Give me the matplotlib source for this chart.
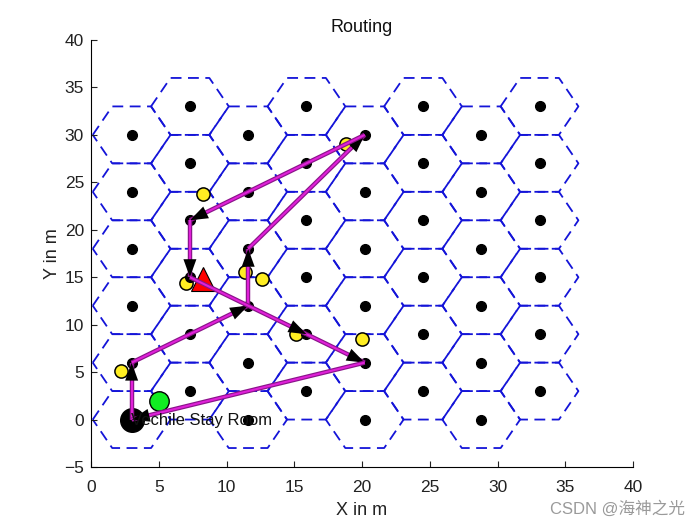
import numpy as np
import matplotlib
matplotlib.use('Agg')
import matplotlib.pyplot as plt
from matplotlib.patches import Polygon
from matplotlib.transforms import IdentityTransform

plt.rcParams['font.family'] = ['Liberation Sans', 'Noto Sans CJK SC', 'DejaVu Sans']

# hexagon cell centres, one list of y values per column
col_x = [3, 7.3, 11.6, 15.9, 20.2, 24.5, 28.8, 33.1]
col_y_low = [0, 6, 12, 18, 24, 30]
col_y_high = [3, 9, 15, 21, 27, 33]

hex_w = 2.87
hex_h = 3.0

yellow_x = [2.2, 7.0, 11.4, 12.6, 15.1, 20.0, 18.8, 8.3]
yellow_y = [5.1, 14.4, 15.6, 14.8, 9.0, 8.5, 29.0, 23.8]

route_x = [3, 3, 11.6, 11.6, 20.2, 7.3, 7.3, 15.9, 20.2, 3]
route_y = [0, 6, 12, 18, 30, 21, 15, 9, 6, 0]

fig = plt.figure(figsize=(7.0, 5.26), dpi=100)
ax = fig.add_axes([91 / 700, 1 - 467 / 526, 542 / 700, 427 / 526])
ax.set_xlim(0, 40)
ax.set_ylim(-5, 40)

for i, x in enumerate(col_x):
    ys = col_y_low if i % 2 == 0 else col_y_high
    for y in ys:
        hx = [x - hex_w, x - hex_w / 2, x + hex_w / 2, x + hex_w, x + hex_w / 2, x - hex_w / 2, x - hex_w]
        hy = [y, y + hex_h, y + hex_h, y, y - hex_h, y - hex_h, y]
        ax.plot(hx, hy, color='#1414d8', lw=1.3, ls=(0, (6, 3.6)), zorder=1)
        ax.plot(x, y, 'o', color='black', ms=7, zorder=3.5)

ax.plot(yellow_x, yellow_y, 'o', mfc='#ffee22', mec='black', ms=9.5, mew=1.1, zorder=3)
ax.plot(8.3, 14.8, '^', mfc='red', mec='black', ms=17, mew=0.8, zorder=3.6)
ax.plot(5, 2, 'o', mfc='#11ee22', mec='black', ms=14, mew=1, zorder=3)
ax.plot(3, 0, 'o', color='black', ms=17, zorder=3)
ax.text(2.95, -0.05, 'Vechile Stay Room', fontsize=12, color='#111111', va='center', zorder=30)

# route legs one by one, each arrow head sits on top of its own leg only
head_len = 18
head_half = 6.5
for k in range(len(route_x) - 1):
    seg_x = route_x[k:k + 2]
    seg_y = route_y[k:k + 2]
    z = 4 + k
    ax.plot(seg_x, seg_y, color='#8a148a', lw=3.2, zorder=z, solid_capstyle='butt')
    ax.plot(seg_x, seg_y, color='#e020d8', lw=1.5, zorder=z, solid_capstyle='butt')
    p0 = ax.transData.transform((seg_x[0], seg_y[0]))
    p1 = ax.transData.transform((seg_x[1], seg_y[1]))
    u = (p1 - p0) / np.hypot(*(p1 - p0))
    n = np.array([-u[1], u[0]])
    base = p1 - head_len * u
    ax.add_patch(Polygon([p1, base + head_half * n, base - head_half * n], closed=True,
                         color='black', lw=0, transform=IdentityTransform(), zorder=z))

ax.set_xticks(range(0, 41, 5))
ax.set_yticks(range(-5, 41, 5))
ax.spines['top'].set_visible(False)
ax.spines['right'].set_visible(False)
ax.tick_params(direction='in', length=4, width=0.8, labelsize=12.5, color='#222222', labelcolor='#222222')
ax.tick_params(axis='x', pad=9.5)
ax.tick_params(axis='y', pad=5)
ax.set_xlabel('X in m', fontsize=13, color='#222222', labelpad=5)
ax.set_ylabel('Y in m', fontsize=13, color='#222222', labelpad=2)
ax.set_title('Routing', fontsize=13, color='#111111', pad=6)

fig.text(0.978, 0.018, 'CSDN @海神之光', fontsize=12, color='#9a9a9a', ha='right', va='bottom')

fig.savefig('out.png', dpi=100)
